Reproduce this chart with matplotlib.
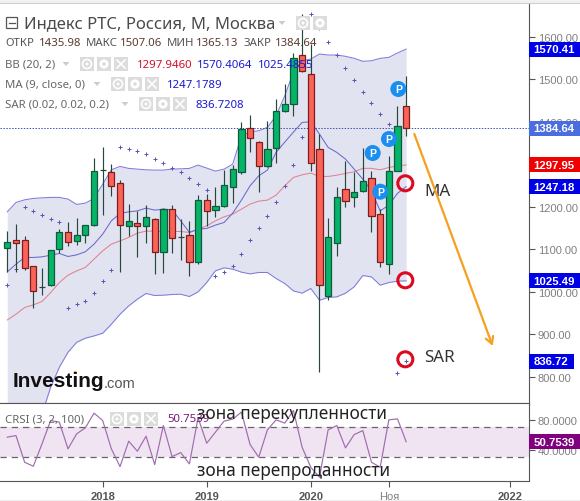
import matplotlib
matplotlib.use('Agg')
import matplotlib.pyplot as plt
from matplotlib.patches import Rectangle, Circle, Polygon
from matplotlib.transforms import blended_transform_factory

plt.rcParams['font.family'] = ['Noto Sans', 'DejaVu Sans']

# monthly candles, feb 2017 .. dec 2020
opens = [1101.6, 1120.5, 1120.5, 1059.3, 1010, 1016, 1099.3, 1139.3, 1119.5, 1133.7, 1155.8, 1285, 1280.5, 1254.6, 1154.8, 1160.5,
         1153.4, 1169.9, 1093.6, 1193.4, 1127.5, 1132.2, 1070.1, 1214.6, 1191, 1200.5, 1246.6, 1281.9, 1384, 1351, 1294.6, 1337,
         1424, 1440.5, 1555.8, 1511, 1334.6, 991, 1113.4, 1240.5, 1223, 1235.8, 1266.4, 1181.7, 1064, 1284.2, 1435.98]
highs = [1141.6, 1158, 1129.9, 1060.7, 1054.6, 1098.4, 1147.1, 1163.5, 1172.9, 1157.2, 1313.4, 1339.3, 1300, 1261.7, 1205.9, 1188.7,
         1203.5, 1172.2, 1195.8, 1203.5, 1169.9, 1165.2, 1226.4, 1228.7, 1245.9, 1285.9, 1297.7, 1398.1, 1415.3, 1353.4, 1400.5, 1453,
         1488.3, 1560.5, 1652, 1582, 1369.9, 1172.2, 1245.2, 1306.4, 1280.5, 1337, 1282.8, 1194, 1318.1, 1435.8, 1507.06]
lows = [1046.6, 1046.6, 1051.3, 961.9, 992.5, 1013.6, 1089.9, 1107.8, 1110.1, 1114.8, 1154.8, 1180, 1225.4, 1046.6, 1131.3, 1080.5,
        1114.1, 1041.9, 1044.2, 1091.3, 1074.1, 1037.2, 1065.4, 1154.8, 1174.6, 1198.1, 1208.2, 1277.2, 1329, 1234.8, 1294, 1302.4,
        1423, 1413.7, 1517, 1282.8, 811.3, 980.7, 1084.2, 1199.5, 1199.5, 1234.8, 1140.7, 1058.4, 1041.2, 1284, 1365.13]
closes = [1115.8, 1114.8, 1054.6, 1002.8, 1009.9, 1096.9, 1139.3, 1115.8, 1132.2, 1155.8, 1282.8, 1287, 1249, 1155.8, 1165.2, 1154.8,
          1174.6, 1093.6, 1193.4, 1126.6, 1127.5, 1070.1, 1214.6, 1188.7, 1200.5, 1249.9, 1287.5, 1381.7, 1360.5, 1294.6, 1334.6, 1424,
          1440.5, 1548.7, 1518.1, 1301.7, 1016, 1127.5, 1221.7, 1214.1, 1234.8, 1259.3, 1178.4, 1068.7, 1282.8, 1388.7, 1384.64]

bb_upper = [1187.8, 1209.9, 1216, 1219.3, 1220.7, 1221.7, 1221.7, 1217.7, 1205.2, 1208.2, 1219.3, 1253, 1286.6, 1294.6, 1289.9, 1288.2,
            1286.6, 1285.9, 1285.9, 1288.2, 1288.9, 1289.9, 1297.7, 1290.6, 1283.5, 1288.2, 1300, 1366.6, 1376, 1378.4, 1386.4, 1413.7,
            1460.7, 1516.5, 1543, 1547, 1558.8, 1556.5, 1556.5, 1553.4, 1548.7, 1541.7, 1543, 1548.7, 1551, 1561.2, 1570.41]
bb_basis = [933.6, 947, 962.8, 969, 977, 998, 1021.6, 1038.8, 1048.9, 1057, 1076.5, 1096, 1111.8, 1119.5, 1127.5, 1137.7,
            1142.4, 1142.4, 1141.6, 1141.6, 1141.6, 1139.3, 1147, 1154.8, 1166.6, 1176, 1182.4, 1194, 1206, 1213, 1215.3, 1227,
            1249, 1268.7, 1274.8, 1278.8, 1271, 1271, 1274, 1278, 1282, 1290, 1290, 1286.6, 1292, 1296, 1297.95]
bb_lower = [500, 560, 610, 660, 712, 775.3, 822.3, 857.6, 881, 890.6, 896, 902.3, 923.5, 947, 966.6, 982.4,
            995.8, 991, 991.8, 993.4, 994, 988.7, 999.5, 1021.6, 1049, 1056, 1053, 1045.9, 1041.9, 1045.2, 1045.2, 1031,
            1019.3, 1001.9, 996.5, 1007.5, 980, 986.4, 987.8, 996.5, 1011.3, 1038, 1034.8, 1015.3, 1021.6, 1024.7, 1025.49]
ma9 = [1046.6, 1064.7, 1080.5, 1080.5, 1081.9, 1085.9, 1089.9, 1082.8, 1086.6, 1094, 1111.8, 1135.3, 1166.6, 1184, 1187.8, 1190,
       1196.5, 1191.8, 1194, 1192.5, 1166.6, 1139.3, 1147, 1148.7, 1156.5, 1162.8, 1184.7, 1215.3, 1249, 1272.5, 1285.9, 1327.5,
       1351.8, 1375.3, 1398, 1399.5, 1370.6, 1339.3, 1327.5, 1311.8, 1288.2, 1264.7, 1237.2, 1190, 1203.5, 1231.3, 1247.18]
sar = [1014.6, 1052.2, 1198, 1188.7, 1179.3, 1169.9, 1162.8, 960.5, 969.9, 977, 998.1, 1024, 1049.9, 1339.3, 1334.6, 1330,
       1322.8, 1311, 1301.7, 1289.9, 1280.5, 1266.4, 1252.2, 1238, 1035.8, 1045.2, 1059.3, 1087.5, 1120.5, 1148.7, 1177, 1209.9,
       1247.5, 1297, 1362.8, 1652, 1619.3, 1586.4, 1555.8, 1525.2, 1497, 1468.7, 1442.8, 1417, 1393.4, 809.9, 836.72]
crsi = [56.8, 58.9, 23.6, 18.3, 47.9, 78.8, 76.7, 41.3, 61.2, 69.1, 88.6, 78.8, 41.3, 17.8, 51.5, 38.2,
        58.1, 20.5, 72.2, 31.1, 36.4, 21.4, 82.4, 48.8, 63.4, 78, 80.7, 89.9, 47, 30.3, 66.5, 79.7,
        75.4, 92.1, 43.5, 17, 3.7, 66.5, 72.2, 42.6, 60.2, 65.5, 23.6, 17, 79.7, 81, 50.75]

months = list(range(len(closes)))
time_ticks = [11, 23, 35, 44, 58]
time_labels = ['2018', '2019', '2020', 'Ноя', '2022']
price_ticks = [800, 900, 1000, 1100, 1200, 1300, 1400, 1500, 1600]
crsi_ticks = [40, 80]

W, H = 580, 502
AX_R = 529.3
GREY = '#808080'


def tag(ax, val, text, color, width=51):
    # price tag sitting on the right of the axis, width in px
    tr = blended_transform_factory(ax.transAxes, ax.transData)
    ax_w = ax.get_position().width * W
    y0, y1 = ax.get_ylim()
    ax_h = ax.get_position().height * H
    hp = 7.5 * (y1 - y0) / ax_h
    ax.add_patch(Rectangle((1.0, val - hp), width / ax_w, 2 * hp, transform=tr, fc=color, ec='none',
                           clip_on=False, zorder=10))
    ax.text(1.0 + 4 / ax_w, val, text, transform=tr, color='white', fontsize=8.2, fontweight='bold',
            family='Liberation Sans', va='center', ha='left', clip_on=False, zorder=11)


fig = plt.figure(figsize=(W / 100, H / 100), dpi=100, facecolor='white')
ax = fig.add_axes([0, (H - 404.3) / H, AX_R / W, (404.3 - 4.5) / H])
ax2 = fig.add_axes([0, (H - 482.3) / H, AX_R / W, (482.3 - 404.3) / H])

for a in (ax, ax2):
    a.set_xlim(-0.842, 60.2)
    a.spines['left'].set_visible(False)
    a.spines['top'].set_visible(False)
    a.spines['right'].set_color('#555555')
    a.spines['bottom'].set_color('#555555')
    a.yaxis.tick_right()
    a.set_xticks(time_ticks)
    a.tick_params(axis='y', length=4, width=0.8, color='#555555', pad=2, labelsize=8, labelcolor=GREY)
ax2.spines['top'].set_visible(True)
ax2.spines['top'].set_color('#555555')

ax.set_ylim(737.6, 1677.6)
ax.set_yticks(price_ticks)
ax.set_yticklabels(['%.2f' % p for p in price_ticks], family='Liberation Sans')
ax.tick_params(axis='x', length=0, labelbottom=False)

# bollinger fill and lines
ax.fill_between(months, bb_lower, bb_upper, color='#e2e3f1', lw=0, zorder=1)
ax.plot(months, bb_upper, color='#7f7cdc', lw=0.75, zorder=2)
ax.plot(months, bb_lower, color='#7f7cdc', lw=0.75, zorder=2)
ax.plot(months, bb_basis, color='#e0828f', lw=0.75, zorder=2)
ax.plot(months, ma9, color='#6a68cc', lw=0.75, zorder=2)
ax.plot(months, sar, ls='none', marker='+', ms=2.8, mew=0.7, color='#5b50b4', zorder=2)
ax.axhline(closes[-1], color='#3f51b5', lw=0.7, ls=(0, (1.5, 1.5)), zorder=2.5)

# candles
for i in months:
    up = closes[i] >= opens[i]
    ax.vlines(i, lows[i], highs[i], color='#24483a', lw=0.85, zorder=3)
    doji = abs(closes[i] - opens[i]) < 3
    fc = '#06b468' if up else '#fb6258'
    ec = '#0f5a3c' if up else '#7c1e1e'
    if doji:
        fc = ec = '#24483a'
    ax.bar(i, abs(closes[i] - opens[i]), bottom=min(opens[i], closes[i]), width=0.72, color=fc, edgecolor=ec,
           lw=0.9, zorder=4)

tag(ax, 1570.41, '1570.41', '#0000e6')
tag(ax, 1384.64, '1384.64', '#4a6ee0')
tag(ax, 1297.95, '1297.95', '#f00000')
tag(ax, 1247.18, '1247.18', '#0000e6')
tag(ax, 1025.49, '1025.49', '#0000e6')
tag(ax, 836.72, '836.72', '#0000e6', width=45)

# crsi panel
ax2.set_ylim(-1.6, 101.6)
ax2.axhspan(30, 70, color='#f0e3f2', lw=0, zorder=1)
ax2.axhline(70, color='#666666', lw=0.9, ls=(0, (5, 4)), zorder=2)
ax2.axhline(30, color='#666666', lw=0.9, ls=(0, (5, 4)), zorder=2)
ax2.plot(months, crsi, color='#a06cae', lw=0.85, zorder=3)
ax2.set_yticks(crsi_ticks)
ax2.set_yticklabels(['%.4f' % v for v in crsi_ticks], family='Liberation Sans')
ax2.set_xticklabels(time_labels, family='Liberation Sans', fontsize=8, color='#555555', fontweight='bold')
ax2.get_xticklabels()[3].set_fontweight('normal')
ax2.get_xticklabels()[3].set_color(GREY)
ax2.tick_params(axis='x', length=4, width=0.8, color='#555555', pad=3)
tag(ax2, 50.7539, '50.7539', '#800080')

# overlay in pixel coords for the header, notes and logo
ov = fig.add_axes([0, 0, 1, 1], zorder=5)
ov.set_xlim(0, W)
ov.set_ylim(H, 0)
ov.axis('off')

# top and bottom strips of the screenshot
ov.add_patch(Rectangle((0, 0), W, 4, fc='#f1f1f1', ec='none'))
ov.plot([0, W], [4.3, 4.3], color='#cfcfcf', lw=0.8)
ov.add_patch(Rectangle((0, 501), W, 1, fc='#eeeeee', ec='none'))


def icons(x, y, n=3):
    # the grey eye / gear / cross buttons
    for k in range(n):
        x0 = x + k * 17
        ov.add_patch(Rectangle((x0, y - 7), 14, 14, fc='#dcdcdc', ec='none'))
        cx = x0 + 7
        if k == 0:
            ov.add_patch(Circle((cx, y), 4.5, fc='none', ec='white', lw=1.2))
            ov.add_patch(Circle((cx, y), 1.5, fc='white', ec='none'))
        elif k == 1:
            ov.add_patch(Circle((cx, y), 3.2, fc='none', ec='white', lw=2))
        else:
            ov.plot([cx - 4, cx + 4], [y - 4, y + 4], color='white', lw=1.2)
            ov.plot([cx - 4, cx + 4], [y + 4, y - 4], color='white', lw=1.2)


def tri(x, y):
    ov.add_patch(Polygon([(x - 3.5, y - 2), (x + 3.5, y - 2), (x, y + 2)], fc='#cccccc', ec='none'))


ov.add_patch(Rectangle((6, 18), 11, 11, fc='none', ec='#555555', lw=0.9))
ov.plot([8.5, 14.5], [23.5, 23.5], color='#555555', lw=0.9)
ov.text(24, 24, 'Индекс РТС, Россия, М, Москва', fontsize=12, color='#4a4a4a', va='center')
tri(282, 24)
icons(296, 24, n=2)

for x, s, c in [(5, 'ОТКР', '#555555'), (38.5, '1435.98', '#5a3a30'), (86, 'МАКС', '#555555'), (120, '1507.06', '#5a3a30'),
                (167, 'МИН', '#555555'), (196, '1365.13', '#5a3a30'), (244, 'ЗАКР', '#555555'), (275, '1384.64', '#5a3a30')]:
    ov.text(x, 43.5, s, fontsize=8.2, color=c, va='center')

ov.text(5, 65, 'BB (20, 2)', fontsize=8.2, color='#666666', va='center')
tri(66, 65)
icons(80, 65)
ov.text(137, 65, '1297.9460', fontsize=8.2, color='#d0102c', va='center')
ov.text(197, 65, '1570.4064', fontsize=8.2, color='#1a1ad0', va='center')
ov.text(258, 65, '1025.4855', fontsize=8.2, color='#1a1ad0', va='center')

ov.text(5, 85, 'MA (9, close, 0)', fontsize=8.2, color='#666666', va='center')
tri(97, 85)
icons(111, 85)
ov.text(167, 85, '1247.1789', fontsize=8.2, color='#1a1ad0', va='center')

ov.text(5, 105, 'SAR (0.02, 0.02, 0.2)', fontsize=8.2, color='#666666', va='center')
tri(125, 105)
icons(139, 105)
ov.text(195, 105, '836.7208', fontsize=8.2, color='#1a1ad0', va='center')

ov.text(5, 420, 'CRSI (3, 2, 100)', fontsize=8.2, color='#666666', va='center')
icons(110, 420)
ov.text(167, 420, '50.7539', fontsize=8.2, color='#7a1a7a', va='center')

ov.text(197, 414, 'зона перекупленности', fontsize=12.4, color='#222222', va='center')
ov.text(197, 471, 'зона перепроданности', fontsize=12.4, color='#222222', va='center')

# P badges
for x, y in [(398.3, 90), (389, 140), (372.7, 154), (380.3, 192.7)]:
    ov.add_patch(Circle((x, y), 8, fc='#1b8ff0', ec='none'))
    ov.text(x, y, 'P', fontsize=7.5, fontweight='bold', color='white', ha='center', va='center',
            family='Liberation Sans')

# hand drawn notes
for x, y in [(405.3, 184.3), (405.3, 281.3), (405.3, 360.3)]:
    ov.add_patch(Circle((x, y), 7.5, fc='none', ec='#dc0a20', lw=2.2))
ov.text(424, 192.5, 'MA', fontsize=12.2, color='#333333', va='center')
ov.text(424, 358, 'SAR', fontsize=12.2, color='#333333', va='center')
ov.annotate('', xy=(492.7, 347), xytext=(414.3, 135),
            arrowprops=dict(arrowstyle='->,head_length=0.5,head_width=0.28', color='#f5a020', lw=1.6, shrinkA=0, shrinkB=0))

# logo
ov.text(13, 381.5, 'Investing', fontsize=15, fontweight='bold', color='#111111', va='center',
        family='Liberation Sans')
ov.text(104, 384, '.com', fontsize=10.5, color='#555555', va='center', family='Liberation Sans')
ov.add_patch(Circle((75.3, 373.5), 1.6, fc='#f5a020', ec='none'))

plt.savefig('out.png', dpi=100)
